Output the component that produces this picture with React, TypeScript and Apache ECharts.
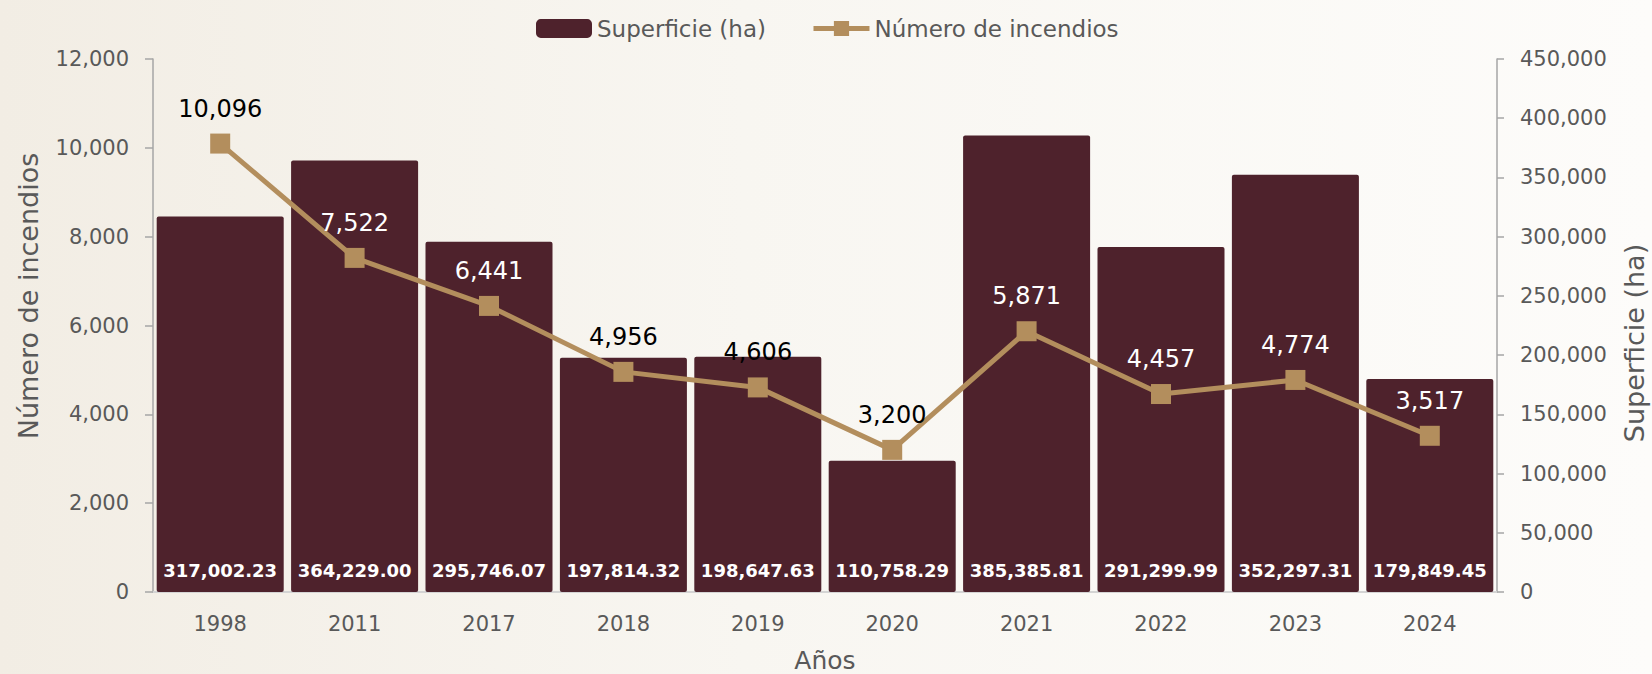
import React, { useEffect, useRef } from "react";
import * as echarts from "echarts";

const years = ["1998", "2011", "2017", "2018", "2019", "2020", "2021", "2022", "2023", "2024"];
const superficie = [317002.23, 364229.0, 295746.07, 197814.32, 198647.63, 110758.29, 385385.81, 291299.99, 352297.31, 179849.45];
const incendios = [10096, 7522, 6441, 4956, 4606, 3200, 5871, 4457, 4774, 3517];
const leftMax = 12000;
const leftStep = 2000;
const rightMax = 450000;
const rightStep = 50000;

const FONT = "'DejaVu Sans', sans-serif";
const BAR = "#4e222c";
const LINE = "#b38e5d";
const GRAY = "#595959";

const W = 1652;
const H = 674;
const GRID = { left: 153, right: 155, top: 59, bottom: 82 };
const GRID_H = H - GRID.top - GRID.bottom;

const fmt = (v: number, d = 0) =>
  v.toLocaleString("en-US", { minimumFractionDigits: d, maximumFractionDigits: d });

export default function App() {
  const ref = useRef<HTMLDivElement>(null);
  useEffect(() => {
    if (!ref.current) return;
    const chart = echarts.init(ref.current, undefined, { renderer: "svg" });
    const labelOffset = 36;
    const lineData = incendios.map((v, i) => {
      const linePx = (v / leftMax) * GRID_H;
      const barPx = (superficie[i] / rightMax) * GRID_H;
      const inside = barPx - (linePx + labelOffset) > 10;
      return { value: v, label: { color: inside ? "#ffffff" : "#000000" } };
    });
    chart.setOption({
      animation: false,
      backgroundColor: {
        type: "linear",
        x: 0,
        y: 0,
        x2: 1,
        y2: 0,
        colorStops: [
          { offset: 0, color: "#f2ede4" },
          { offset: 0.45, color: "#f8f6f1" },
          { offset: 1, color: "#fdfcfa" },
        ],
      },
      textStyle: { fontFamily: FONT },
      legend: {
        left: 531,
        top: 12,
        itemWidth: 56,
        itemHeight: 19,
        itemGap: 45,
        textStyle: { fontFamily: FONT, fontSize: 23, color: GRAY },
        data: [
          { name: "Superficie (ha)", icon: "roundRect" },
          { name: "Número de incendios", lineStyle: { width: 5 } },
        ],
      },
      grid: { ...GRID, containLabel: false, outerBoundsMode: "none" },
      xAxis: {
        type: "category",
        data: years,
        name: "Años",
        nameLocation: "middle",
        nameGap: 56,
        nameTextStyle: { fontFamily: FONT, fontSize: 25, lineHeight: 25, color: GRAY },
        axisLine: { lineStyle: { color: "#d4d4d4", width: 2 } },
        axisTick: { show: false },
        axisLabel: { fontFamily: FONT, fontSize: 21, color: GRAY, margin: 21 },
      },
      yAxis: [
        {
          type: "value",
          position: "left",
          min: 0,
          max: leftMax,
          interval: leftStep,
          axisLine: { show: true, lineStyle: { color: "#a6a6a6", width: 1.5 } },
          axisTick: { show: true, length: 8, lineStyle: { color: "#a6a6a6", width: 1.5 } },
          splitLine: { show: false },
          axisLabel: { fontFamily: FONT, fontSize: 21, color: GRAY, margin: 24, formatter: (v: number) => fmt(v) },
        },
        {
          type: "value",
          position: "right",
          min: 0,
          max: rightMax,
          interval: rightStep,
          axisLine: { show: true, lineStyle: { color: "#a6a6a6", width: 1.5 } },
          axisTick: { show: true, length: 7, lineStyle: { color: "#a6a6a6", width: 1.5 } },
          splitLine: { show: false },
          axisLabel: { fontFamily: FONT, fontSize: 21, color: GRAY, margin: 23, formatter: (v: number) => fmt(v) },
        },
      ],
      graphic: [
        {
          type: "text",
          x: 28,
          y: 296,
          rotation: Math.PI / 2,
          style: {
            text: "Número de incendios",
            font: `27px ${FONT}`,
            fill: GRAY,
            textAlign: "center",
            textVerticalAlign: "middle",
            align: "center",
            verticalAlign: "middle",
          },
        },
        {
          type: "text",
          x: 1634,
          y: 343,
          rotation: Math.PI / 2,
          style: {
            text: "Superficie (ha)",
            font: `27px ${FONT}`,
            fill: GRAY,
            textAlign: "center",
            textVerticalAlign: "middle",
            align: "center",
            verticalAlign: "middle",
          },
        },
      ],
      series: [
        {
          name: "Superficie (ha)",
          type: "bar",
          yAxisIndex: 1,
          data: superficie,
          barCategoryGap: "5.5%",
          itemStyle: { color: BAR, borderRadius: 2 },
          label: {
            show: true,
            position: "insideBottom",
            distance: 13,
            color: "#ffffff",
            fontFamily: FONT,
            fontWeight: "bold",
            fontSize: 18,
            formatter: (p: any) => fmt(p.value, 2),
          },
          z: 2,
        },
        {
          name: "Número de incendios",
          type: "line",
          yAxisIndex: 0,
          data: lineData,
          symbol: "rect",
          symbolSize: 20,
          lineStyle: { color: LINE, width: 5 },
          itemStyle: { color: LINE },
          label: {
            show: true,
            position: "top",
            distance: 13,
            fontFamily: FONT,
            fontSize: 24,
            formatter: (p: any) => fmt(p.value),
          },
          z: 3,
        },
      ],
    });
    return () => chart.dispose();
  }, []);
  return (
    <div
      ref={ref}
      style={{ position: "fixed", left: 0, top: 0, width: W, height: H }}
    />
  );
}
